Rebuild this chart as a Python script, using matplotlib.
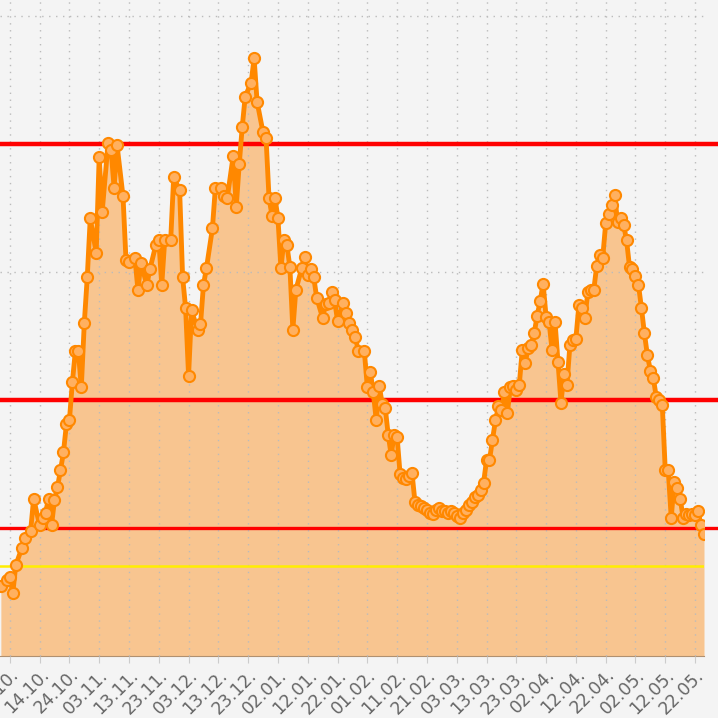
import matplotlib
matplotlib.use('Agg')
import matplotlib.pyplot as plt
import matplotlib.dates as mdates
import numpy as np
import datetime as dt

# days since 01.10.2022 and the measured values
days = [0, 2, 3, 4, 5, 7, 8, 10, 11, 13, 14, 15, 16, 17, 18, 19, 20, 21, 22, 23,
        24, 25, 26, 27, 28, 29, 30, 32, 33, 34, 36, 37, 38, 39, 41, 42, 43, 45, 46, 47,
        49, 50, 52, 53, 54, 55, 57, 58, 60, 61, 62, 63, 64, 66, 67, 68, 69, 71, 72, 74,
        75, 76, 78, 79, 80, 81, 82, 84, 85, 86, 88, 89, 90, 91, 92, 93, 94, 95, 96, 97,
        98, 99, 101, 102, 103, 104, 105, 106, 108, 109, 110, 111, 112, 113, 115, 116, 117, 118, 119, 120,
        122, 123, 124, 125, 126, 127, 128, 129, 130, 131, 132, 133, 134, 135, 136, 137, 138, 139, 140, 141,
        142, 143, 144, 145, 146, 147, 148, 149, 150, 151, 152, 153, 154, 155, 156, 157, 158, 159, 160, 161,
        162, 163, 164, 165, 166, 167, 168, 169, 170, 171, 172, 173, 174, 175, 176, 177, 178, 179, 180, 181,
        182, 183, 184, 185, 186, 187, 188, 189, 190, 191, 192, 193, 194, 195, 196, 197, 198, 199, 200, 201,
        202, 203, 204, 205, 206, 207, 208, 209, 210, 211, 212, 213, 214, 215, 216, 217, 218, 219, 220, 221,
        222, 223, 224, 225, 226, 227, 228, 229, 230, 231, 232, 233, 234, 235, 236]
values = [0.55, 0.59, 0.62, 0.49, 0.71, 0.84, 0.92, 0.98, 1.23, 1.02, 1.08, 1.12, 1.23, 1.02, 1.22, 1.32, 1.45, 1.59, 1.81, 1.84,
          2.14, 2.38, 2.38, 2.10, 2.60, 2.96, 3.42, 3.15, 3.90, 3.47, 4.01, 3.95, 3.66, 3.99, 3.59, 3.09, 3.08, 3.11, 2.86, 3.07,
          2.90, 3.02, 3.21, 3.25, 2.90, 3.25, 3.25, 3.74, 3.64, 2.96, 2.72, 2.19, 2.70, 2.55, 2.59, 2.90, 3.03, 3.34, 3.66, 3.66,
          3.59, 3.58, 3.91, 3.51, 3.84, 4.13, 4.37, 4.48, 4.67, 4.33, 4.09, 4.05, 3.58, 3.44, 3.58, 3.42, 3.03, 3.25, 3.21, 3.04,
          2.55, 2.86, 3.03, 3.12, 2.98, 3.02, 2.96, 2.80, 2.64, 2.75, 2.76, 2.84, 2.78, 2.62, 2.76, 2.68, 2.60, 2.55, 2.49, 2.38,
          2.38, 2.10, 2.22, 2.06, 1.84, 2.11, 1.97, 1.94, 1.73, 1.57, 1.73, 1.71, 1.42, 1.39, 1.38, 1.41, 1.43, 1.20, 1.18, 1.17,
          1.16, 1.14, 1.12, 1.11, 1.14, 1.16, 1.13, 1.13, 1.12, 1.13, 1.12, 1.09, 1.08, 1.12, 1.14, 1.18, 1.20, 1.24, 1.26, 1.30,
          1.35, 1.53, 1.53, 1.69, 1.84, 1.95, 1.92, 2.06, 1.90, 2.10, 2.11, 2.08, 2.12, 2.39, 2.29, 2.41, 2.43, 2.52, 2.66, 2.77,
          2.91, 2.65, 2.61, 2.39, 2.61, 2.30, 1.98, 2.20, 2.12, 2.43, 2.47, 2.48, 2.74, 2.72, 2.64, 2.84, 2.86, 2.86, 3.05, 3.13,
          3.11, 3.38, 3.45, 3.52, 3.60, 3.39, 3.42, 3.37, 3.25, 3.04, 3.02, 2.97, 2.90, 2.72, 2.52, 2.35, 2.23, 2.17, 2.02, 2.00,
          1.96, 1.45, 1.45, 1.08, 1.36, 1.31, 1.23, 1.08, 1.11, 1.10, 1.11, 1.10, 1.13, 1.02, 0.95]

thresholds_red = [4.0, 2.0, 1.0]
threshold_yellow = 0.7

start = dt.datetime(2022, 10, 1)
dates = [start + dt.timedelta(days=d) for d in days]

fig = plt.figure(figsize=(7.18, 7.18), dpi=100, facecolor='#f4f4f4')
ax = fig.add_axes([0, 62 / 718, 704 / 718, 656 / 718])
ax.set_facecolor('#f4f4f4')

ax.fill_between(dates, values, 0, color='#f8c590', zorder=1, linewidth=0)
ax.plot(dates, values, color='#ff8800', lw=3.5, marker='o', ms=8,
        mfc='#ffb060', mec='#ff8800', mew=1.5, zorder=4)

for v, w in zip(thresholds_red, [3.2, 3.2, 2.4]):
    ax.axhline(v, xmax=718 / 704, color='#ff0000', lw=w, zorder=3, clip_on=False)
ax.axhline(threshold_yellow, color='#ffee00', lw=1.8, zorder=3)

ax.set_xlim(start - dt.timedelta(hours=7), start + dt.timedelta(days=236))
ax.set_ylim(0, 656 / 128)

ticks = [dt.datetime(2022, 10, 4) + dt.timedelta(days=10 * i) for i in range(24)]
ax.set_xticks(ticks)
ax.xaxis.set_major_formatter(mdates.DateFormatter('%d.%m.'))
ax.set_yticks([1, 2, 3, 4, 5])
ax.yaxis.set_ticklabels([])
ax.tick_params(axis='y', length=0)
ax.tick_params(axis='x', length=5, color='#cccccc', labelsize=12.5, labelcolor='#666666', pad=2)
for lab in ax.get_xticklabels():
    lab.set_rotation(45)
    lab.set_ha('right')
    lab.set_va('top')
    lab.set_rotation_mode('anchor')

ax.grid(True, color='#bbbbbb', linestyle=(0, (1, 4)), lw=1, zorder=2)
ax.set_axisbelow(False)
for s in ['top', 'right', 'left']:
    ax.spines[s].set_visible(False)
ax.spines['bottom'].set_color('#b09070')

fig.savefig('out.png', dpi=100, facecolor='#f4f4f4')
